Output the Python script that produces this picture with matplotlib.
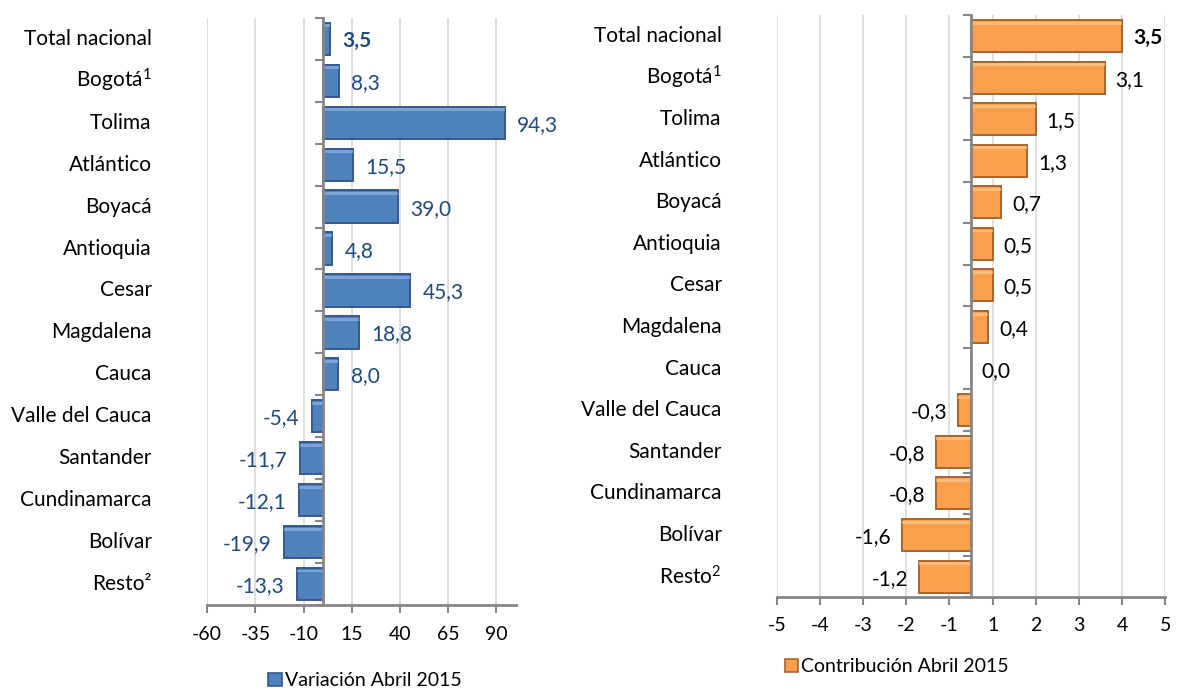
import numpy as np
import matplotlib
matplotlib.use("Agg")
import matplotlib.pyplot as plt
from matplotlib.patches import Patch
from matplotlib.transforms import blended_transform_factory

plt.rcParams["font.family"] = ["Lato", "DejaVu Sans"]
plt.rcParams["mathtext.fontset"] = "custom"
plt.rcParams["mathtext.rm"] = "Lato"
plt.rcParams["mathtext.it"] = "Lato"

# data
cats_left = ["Total nacional", r"Bogotá$^{1}$", "Tolima", "Atlántico", "Boyacá", "Antioquia", "Cesar",
             "Magdalena", "Cauca", "Valle del Cauca", "Santander", "Cundinamarca", "Bolívar", "Resto²"]
cats_right = ["Total nacional", r"Bogotá$^{1}$", "Tolima", "Atlántico", "Boyacá", "Antioquia", "Cesar",
              "Magdalena", "Cauca", "Valle del Cauca", "Santander", "Cundinamarca", "Bolívar", r"Resto$^{2}$"]
variacion = [3.5, 8.3, 94.3, 15.5, 39.0, 4.8, 45.3, 18.8, 8.0, -5.4, -11.7, -12.1, -19.9, -13.3]
contribucion = [3.5, 3.1, 1.5, 1.3, 0.7, 0.5, 0.5, 0.4, 0.0, -0.3, -0.8, -0.8, -1.6, -1.2]
ticks_left = [-60, -35, -10, 15, 40, 65, 90]
ticks_right = [-4.5, -3.5, -2.5, -1.5, -0.5, 0.5, 1.5, 2.5, 3.5, 4.5]
legend_left = "Variación Abril 2015"
legend_right = "Contribución Abril 2015"

GRAY = "#868686"
GRID = "#D9D9D9"


def fmt(v):
    return "{:.1f}".format(v).replace(".", ",")


def excel_round(t):
    # excel rounds half away from zero
    return int(np.sign(t) * np.floor(abs(t) + 0.5))


def draw_panel(ax, cats, values, ticks, xlim, face, edge, light, txt_color, label_x, gap, pad):
    n = len(cats)
    y = np.arange(n)
    ax.set_xlim(*xlim)
    ax.set_ylim(n - 0.5, -0.5)
    ax.set_xticks(ticks)
    ax.set_xticklabels([str(excel_round(t)) for t in ticks], fontsize=14)
    ax.grid(axis="x", color=GRID, linewidth=1.2)
    ax.set_axisbelow(True)

    ax.barh(y, values, height=0.77, color=face, edgecolor=edge, linewidth=1.4, zorder=3)
    # thin highlight at the top of each bar for the bevel look
    ax.barh(y - 0.31, values, height=0.07, color=light, alpha=0.7, linewidth=0, zorder=4)

    for sp in ["top", "right"]:
        ax.spines[sp].set_visible(False)
    ax.spines["left"].set_position(("data", 0))
    ax.spines["left"].set_color(GRAY)
    ax.spines["left"].set_linewidth(2)
    ax.spines["left"].set_zorder(5)
    ax.spines["bottom"].set_color(GRAY)
    ax.spines["bottom"].set_linewidth(2)
    ax.set_yticks(np.arange(n + 1) - 0.5)
    ax.set_yticklabels([])
    ax.tick_params(axis="y", length=6, width=1.5, color=GRAY, direction="out")
    ax.tick_params(axis="x", length=6, width=1.5, color=GRAY, direction="out", pad=pad)

    tr = blended_transform_factory(ax.transAxes, ax.transData)
    for i, c in enumerate(cats):
        ax.text(label_x, i, c, transform=tr, ha="right", va="center", fontsize=15, color="black")

    for i, v in enumerate(values):
        weight = "bold" if i == 0 else "normal"
        if v >= 0:
            ax.text(v + gap, i + 0.05, fmt(v), ha="left", va="center", fontsize=15,
                    color=txt_color, fontweight=weight)
        else:
            ax.text(v - gap, i + 0.05, fmt(v), ha="right", va="center", fontsize=15,
                    color=txt_color, fontweight=weight)


fig = plt.figure(figsize=(11.77, 6.89), dpi=100)

ax1 = fig.add_axes([0.176, 0.122, 0.262, 0.852])
draw_panel(ax1, cats_left, variacion, ticks_left, (-60, 100), "#4F81BD", "#35598A", "#8DB3E2",
           "#1F497D", -0.18, 6.5, 9)

ax2 = fig.add_axes([0.660, 0.133, 0.330, 0.845])
draw_panel(ax2, cats_right, contribucion, ticks_right, (-4.5, 4.5), "#F9A04E", "#A8652E", "#FCC98F",
           "black", -0.142, 0.25, 8)

h1 = Patch(facecolor="#4F81BD", edgecolor="#35598A", linewidth=1.2)
fig.legend([h1], [legend_left], loc="center", bbox_to_anchor=(0.31, 0.012), frameon=False,
           fontsize=14, handlelength=0.7, handleheight=0.7, handletextpad=0.15, borderpad=0)
h2 = Patch(facecolor="#F9A04E", edgecolor="#A8652E", linewidth=1.2)
fig.legend([h2], [legend_right], loc="center", bbox_to_anchor=(0.762, 0.032), frameon=False,
           fontsize=14, handlelength=0.7, handleheight=0.7, handletextpad=0.15, borderpad=0)

fig.savefig("out.png", dpi=100, facecolor="white")
